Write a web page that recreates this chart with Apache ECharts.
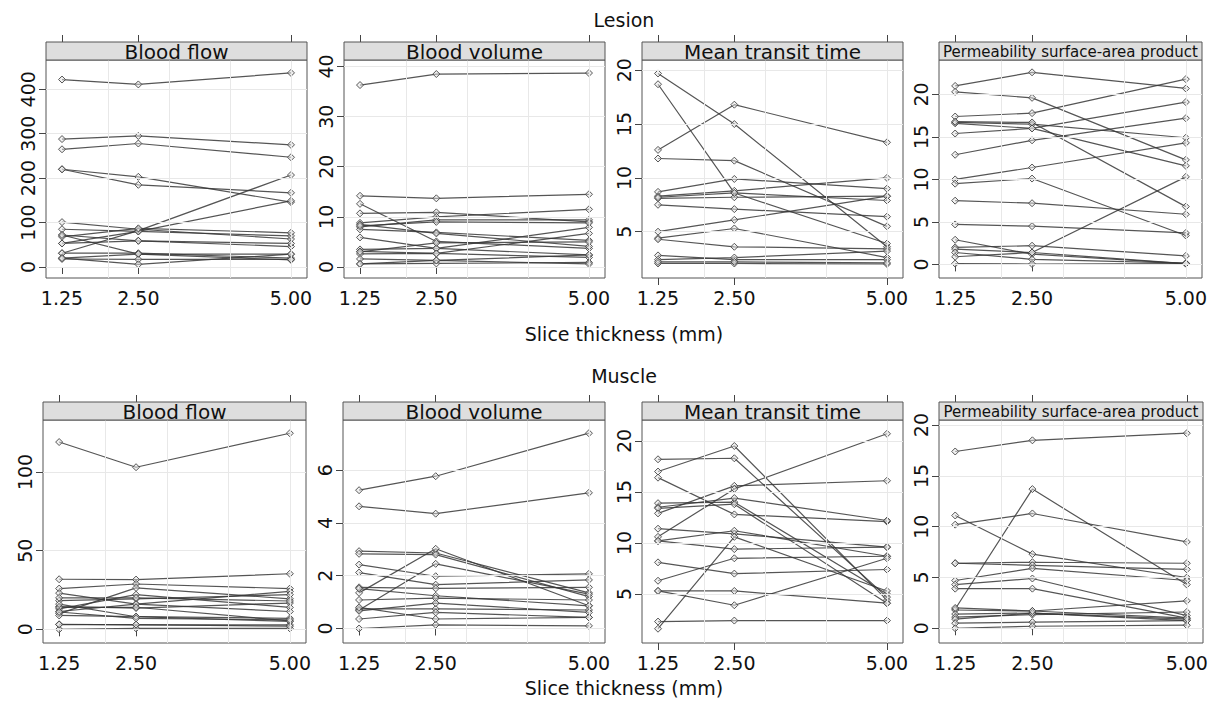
<!DOCTYPE html>
<html>
<head>
<meta charset="utf-8">
<script src="https://cdn.jsdelivr.net/npm/echarts@6/dist/echarts.min.js"></script>
<style>html,body{margin:0;padding:0;background:#fff;}#chart{width:1221px;height:702px;}</style>
</head>
<body>
<div id="chart"></div>
<script>
// ---------- data ----------
const xValues = [1.25, 2.5, 5];
const xGridValues = [2, 3, 4, 5];
const rowTitles = ['Lesion', 'Muscle'];
const panelTitles = ['Blood flow', 'Blood volume', 'Mean transit time', 'Permeability surface-area product'];
const xAxisTitle = 'Slice thickness (mm)';

const lesionBloodFlowTicks = [0, 100, 200, 300, 400];
const lesionBloodVolumeTicks = [0, 10, 20, 30, 40];
const lesionMeanTransitTimeTicks = [5, 10, 15, 20];
const lesionPermeabilityTicks = [0, 5, 10, 15, 20];
const muscleBloodFlowTicks = [0, 50, 100];
const muscleBloodVolumeTicks = [0, 2, 4, 6];
const muscleMeanTransitTimeTicks = [5, 10, 15, 20];
const musclePermeabilityTicks = [0, 5, 10, 15, 20];

// each row: values at 1.25, 2.50, 5.00 mm
const lesionBloodFlow = [
  [422, 411, 437], [288, 295, 275], [265, 278, 247], [220, 203, 146], [220, 185, 167],
  [31, 82, 207], [53, 80, 149], [101, 85, 63], [85, 80, 70], [72, 29, 29],
  [68, 87, 77], [72, 59, 46], [53, 59, 53], [31, 31, 20], [20, 29, 16],
  [18, 17, 17], [20, 6, 29]
];
const lesionBloodVolume = [
  [36.3, 38.5, 38.7], [14.2, 13.7, 14.5], [12.6, 5.1, 3.7], [10.7, 10.9, 9.0], [8.8, 10.0, 11.5],
  [8.0, 9.4, 9.4], [7.5, 6.9, 5.3], [8.5, 6.7, 4.1], [5.9, 3.7, 2.4], [3.5, 3.7, 7.9],
  [3.1, 2.7, 6.7], [2.6, 2.7, 1.9], [1.6, 1.3, 2.4], [0.6, 0.7, 0.9], [0.6, 1.3, 0.6],
  [8.2, 9.0, 8.8], [3.0, 4.8, 5.0]
];
const lesionMeanTransitTime = [
  [19.7, 15.0, 3.6], [18.7, 8.6, 3.9], [12.6, 16.8, 13.3], [11.8, 11.6, 5.5], [8.7, 9.9, 9.0],
  [8.3, 8.8, 10.0], [8.1, 8.2, 8.3], [7.5, 7.1, 6.4], [5.0, 6.1, 8.3], [4.4, 5.3, 2.6],
  [4.3, 3.6, 3.4], [2.8, 2.4, 2.4], [2.4, 2.6, 3.2], [2.05, 2.05, 2.0], [8.2, 8.6, 7.9],
  [2.2, 2.2, 2.1]
];
const lesionPermeability = [
  [21.0, 22.6, 20.7], [20.3, 19.6, 12.3], [17.4, 17.8, 21.8], [16.7, 16.5, 14.9], [16.6, 16.0, 11.6],
  [16.8, 16.7, 6.8], [15.4, 16.0, 19.1], [12.9, 14.6, 17.2], [10.0, 11.4, 14.3], [9.5, 10.1, 3.4],
  [7.5, 7.2, 5.9], [4.7, 4.5, 3.7], [2.9, 1.2, 0.1], [2.0, 2.2, 1.0], [1.8, 1.4, 10.3],
  [1.4, 0.6, 0.15], [0.9, 1.4, 0.1], [0.1, 0.05, 0.1]
];
const muscleBloodFlow = [
  [119, 103, 124.6], [31.8, 31.6, 35.3], [25.9, 28.8, 25.9], [23, 16, 24.1], [10, 26.3, 19.4],
  [18.2, 19.4, 22], [14.5, 13.5, 16.7], [13, 22, 13.9], [11.3, 16, 11.3], [8.8, 8.1, 7],
  [3.2, 2.8, 2.8], [0, 0.6, 0.6], [14, 14, 5.3], [16, 8, 5], [20, 20, 18],
  [11, 7, 6], [3, 3, 2]
];
const muscleBloodVolume = [
  [5.24, 5.77, 7.4], [4.63, 4.35, 5.14], [2.93, 2.86, 1.35], [2.83, 2.80, 1.21], [1.35, 3.02, 0.86],
  [2.42, 1.98, 2.07], [2.12, 1.66, 1.84], [1.56, 1.52, 1.56], [1.51, 1.24, 0.86], [1.08, 1.15, 1.08],
  [0.70, 2.45, 1.30], [0.74, 0.74, 0.70], [0.67, 0.96, 0.61], [0.36, 0.61, 0.42], [0, 0.14, 0.1],
  [0.80, 0.36, 0.42]
];
const muscleMeanTransitTime = [
  [17.0, 19.5, 4.4], [18.2, 18.3, 4.7], [16.4, 12.8, 12.1], [13.9, 14.0, 5.0], [13.5, 14.4, 12.2],
  [13.4, 13.8, 4.1], [12.9, 15.6, 16.1], [10.6, 15.3, 20.7], [11.4, 10.9, 9.6], [10.2, 11.2, 8.7],
  [10.2, 9.4, 9.6], [8.1, 7.0, 7.4], [6.3, 8.5, 8.7], [5.3, 5.3, 4.1], [5.3, 3.9, 8.5],
  [2.3, 2.4, 2.4], [1.6, 10.6, 5.3]
];
const musclePermeability = [
  [17.4, 18.5, 19.2], [1.9, 13.7, 4.3], [11.1, 7.3, 5.0], [10.2, 11.3, 8.5], [6.4, 6.5, 6.4],
  [6.4, 6.2, 5.8], [4.7, 5.9, 4.7], [4.3, 4.9, 1.25], [3.9, 3.9, 1.0], [1.8, 1.7, 2.7],
  [1.4, 1.5, 0.9], [1.1, 1.35, 1.6], [0.9, 1.5, 0.75], [0.5, 0.6, 0.75], [0, 0.2, 0.3],
  [2.0, 1.7, 1.0]
];

// ---------- layout ----------
const FONT = 'DejaVu Sans';
const X_MIN = 0.9875, X_MAX = 5.2625;
const STRIP_H = 18;
const panels = [
  { data: lesionBloodFlow, title: panelTitles[0], ticks: lesionBloodFlowTicks, left: 46, top: 60, width: 261, height: 218, min: -24.8, max: 466, sf: 20 },
  { data: lesionBloodVolume, title: panelTitles[1], ticks: lesionBloodVolumeTicks, left: 344, top: 60, width: 261, height: 218, min: -2.2, max: 41.3, sf: 20 },
  { data: lesionMeanTransitTime, title: panelTitles[2], ticks: lesionMeanTransitTimeTicks, left: 642, top: 60, width: 261, height: 218, min: 0.7, max: 20.95, sf: 20 },
  { data: lesionPermeability, title: panelTitles[3], ticks: lesionPermeabilityTicks, left: 939, top: 60, width: 263, height: 218, min: -1.6, max: 24.05, sf: 15 },
  { data: muscleBloodFlow, title: panelTitles[0], ticks: muscleBloodFlowTicks, left: 43, top: 420, width: 263, height: 223, min: -8.7, max: 133, sf: 20 },
  { data: muscleBloodVolume, title: panelTitles[1], ticks: muscleBloodVolumeTicks, left: 343, top: 420, width: 262, height: 223, min: -0.55, max: 7.9, sf: 20 },
  { data: muscleMeanTransitTime, title: panelTitles[2], ticks: muscleMeanTransitTimeTicks, left: 642, top: 420, width: 261, height: 223, min: 0.2, max: 22.05, sf: 20 },
  { data: musclePermeability, title: panelTitles[3], ticks: musclePermeabilityTicks, left: 939, top: 420, width: 264, height: 223, min: -1.45, max: 20.5, sf: 15 }
];

const grid = [], xAxis = [], yAxis = [], series = [], graphic = [];
const tickStyle = { color: '#444', width: 1 };
panels.forEach((p, i) => {
  grid.push({ left: p.left, top: p.top, width: p.width, height: p.height, show: true,
    borderColor: '#555', borderWidth: 1, backgroundColor: '#fff', containLabel: false, outerBoundsMode: 'none' });
  xAxis.push({ gridIndex: i, type: 'value', min: X_MIN, max: X_MAX, position: 'bottom',
    splitLine: { show: false }, axisLine: { show: false },
    axisTick: { show: true, customValues: xValues, length: 7, lineStyle: tickStyle },
    axisLabel: { show: true, customValues: xValues, formatter: v => Number(v).toFixed(2),
      fontSize: 19, fontFamily: FONT, color: '#111', margin: 10 } });
  xAxis.push({ gridIndex: i, type: 'value', min: X_MIN, max: X_MAX, position: 'top', offset: STRIP_H,
    splitLine: { show: false }, axisLine: { show: false },
    axisTick: { show: true, customValues: xValues, length: 7, lineStyle: tickStyle },
    axisLabel: { show: false } });
  yAxis.push({ gridIndex: i, type: 'value', min: p.min, max: p.max,
    splitLine: { show: false }, axisLine: { show: false },
    axisTick: { show: true, customValues: p.ticks, length: 7, lineStyle: tickStyle },
    axisLabel: { show: true, customValues: p.ticks, rotate: 90, fontSize: 19, fontFamily: FONT, color: '#111', margin: 9 } });
  // reference grid lines
  series.push({ type: 'line', xAxisIndex: 2 * i, yAxisIndex: i, data: [], z: 1, silent: true,
    markLine: { silent: true, symbol: ['none', 'none'], label: { show: false }, animation: false,
      lineStyle: { color: '#e8e8e8', width: 1, type: 'solid' },
      data: xGridValues.map(v => ({ xAxis: v })).concat(p.ticks.map(v => ({ yAxis: v }))) } });
  p.data.forEach(row => {
    series.push({ type: 'line', xAxisIndex: 2 * i, yAxisIndex: i, z: 3,
      data: row.map((v, k) => [xValues[k], v]),
      symbol: 'diamond', symbolSize: 7, showSymbol: true,
      lineStyle: { color: 'rgba(55,55,55,0.85)', width: 1.2 },
      itemStyle: { color: 'rgba(225,225,225,0.5)', borderColor: 'rgba(70,70,70,0.9)', borderWidth: 1 },
      emphasis: { disabled: true } });
  });
  // strip
  graphic.push({ type: 'rect', shape: { x: p.left, y: p.top - STRIP_H, width: p.width, height: STRIP_H },
    style: { fill: '#dedede', stroke: '#555', lineWidth: 1 }, z: 10 });
  graphic.push({ type: 'text', x: p.left + p.width / 2, y: p.top - STRIP_H / 2 + 1, z: 11,
    style: { text: p.title, align: 'center', verticalAlign: 'middle', fontSize: p.sf, fontFamily: FONT, fill: '#111' } });
});

const titleStyle = { align: 'center', verticalAlign: 'middle', fontSize: 19, fontFamily: FONT, fill: '#111' };
graphic.push({ type: 'text', x: 624, y: 20, style: Object.assign({ text: rowTitles[0] }, titleStyle) });
graphic.push({ type: 'text', x: 624, y: 334, style: Object.assign({ text: xAxisTitle }, titleStyle) });
graphic.push({ type: 'text', x: 624, y: 376, style: Object.assign({ text: rowTitles[1] }, titleStyle) });
graphic.push({ type: 'text', x: 624, y: 688, style: Object.assign({ text: xAxisTitle }, titleStyle) });

const chart = echarts.init(document.getElementById('chart'), null, { renderer: 'svg' });
chart.setOption({ animation: false, backgroundColor: '#fff', grid, xAxis, yAxis, series, graphic });
</script>
</body>
</html>
